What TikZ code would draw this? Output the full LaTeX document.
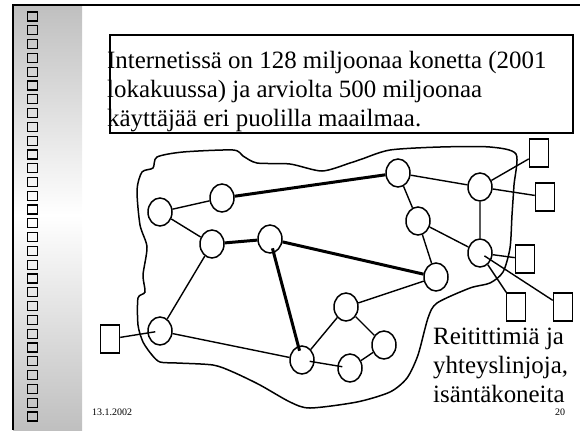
\documentclass[tikz,border=0pt]{standalone}
\usepackage{fontspec}
\setmainfont{Liberation Serif}
\usetikzlibrary{shapes.geometric,calc}

\tikzset{
  router/.style={ellipse,draw,line width=1.5bp,minimum width=24bp,minimum height=28bp,inner sep=0pt},
  host/.style={draw,line width=1.5bp,minimum width=19bp,minimum height=28bp,inner sep=0pt},
  link/.style={line width=1.4bp,shorten <=-5bp,shorten >=-5bp},
  trunk/.style={line width=3bp,shorten <=-5bp,shorten >=-5bp},
  tohost/.style={line width=1.4bp,shorten <=-8bp},
  bigtext/.style={anchor=base west,inner sep=0pt,font=\fontsize{25}{29}\selectfont},
  smalltext/.style={anchor=base west,inner sep=0pt,font=\fontsize{10}{12}\selectfont},
  bullet/.style={draw,line width=1.2bp,minimum width=9.5bp,minimum height=9bp,inner sep=0pt},
}

\begin{document}
\begin{tikzpicture}[x=1bp,y=-1bp]
  \useasboundingbox (0,0) rectangle (580,430);
  % side panel
  \shade[top color=gray!50,bottom color=white] (13,5) rectangle (82,215);
  \shade[top color=white,bottom color=gray!50] (13,215) rectangle (82,430);
  \foreach \i in {0,...,29}
    \node[bullet] (b\i) at (32.5,16.5+13.79*\i) {};
  \draw[line width=1.5bp] (580,5) -- (13,5) -- (13,430);

  % text box
  \draw[line width=1.4bp] (110,35) rectangle (573,133);
  \node[bigtext] (info1) at (107,68) {Internetissä on 128 miljoonaa konetta (2001};
  \node[bigtext] (info2) at (107,97) {lokakuussa) ja arviolta 500 miljoonaa};
  \node[bigtext] (info3) at (107,126) {käyttäjää eri puolilla maailmaa.};

  % the cloud
  \draw[line width=1.5bp] plot[smooth cycle,tension=0.45] coordinates {
    (157,157) (183,152) (233,150) (243,156) (257,163) (290,164) (322,171)
    (350,163) (362,159) (390,150) (440,147) (490,147) (516,154) (514,185)
    (512,215) (510,248) (503,272) (490,283) (470,288) (437,303) (428,318)
    (418,355) (407,378) (390,392) (357,402) (310,408) (290,402) (260,385)
    (233,372) (213,365) (177,363) (160,362) (152,355) (143,342) (138,325)
    (138,298) (145,292) (143,275) (147,247) (140,225) (137,190) (142,172)
    (153,168)};

  % routers
  \node[router] (A) at (160,212) {};
  \node[router] (B) at (222,198) {};
  \node[router] (C) at (212,244) {};
  \node[router] (D) at (270,239) {};
  \node[router] (E) at (398,173) {};
  \node[router] (F) at (418,221) {};
  \node[router] (G) at (480,187) {};
  \node[router] (H) at (480,253) {};
  \node[router] (I) at (436,277) {};
  \node[router] (J) at (160,331) {};
  \node[router] (L) at (346,307) {};
  \node[router] (M) at (384,345) {};
  \node[router] (N) at (350,368) {};
  \node[router] (O) at (302,360) {};

  % hosts
  \node[host] (h1) at (539,153) {};
  \node[host] (h2) at (545,197) {};
  \node[host] (h3) at (525,259) {};
  \node[host] (h4) at (516,307) {};
  \node[host] (h5) at (563,307) {};
  \node[host] (h6) at (110,339) {};

  % links
  \draw[link] (A) -- (B) (A) -- (C) (C) -- (J) (J) -- (O)
    (E) -- (G) (E) -- (F) (F) -- (I) (F) -- (H) (G) -- (H)
    (I) -- (L) (L) -- (O) (L) -- (M) (M) -- (N) (N) -- (O);
  \draw[trunk] (B) -- (E) (C) -- (D) (D) -- (I) (D) -- (O);
  \draw[tohost] (G) -- (h1) (G) -- (h2) (H) -- (h3) (H) -- (h4) (H) -- (h5);
  \draw[tohost] (J) -- (h6);

  \node[bigtext] (cap1) at (433,344) {Reitittimiä ja};
  \node[bigtext] (cap2) at (433,373) {yhteyslinjoja,};
  \node[bigtext] (cap3) at (433,402) {isäntäkoneita};

  \node[smalltext] (date) at (92,415) {13.1.2002};
  \node[smalltext] (page) at (555,415) {20};
\end{tikzpicture}
\end{document}
